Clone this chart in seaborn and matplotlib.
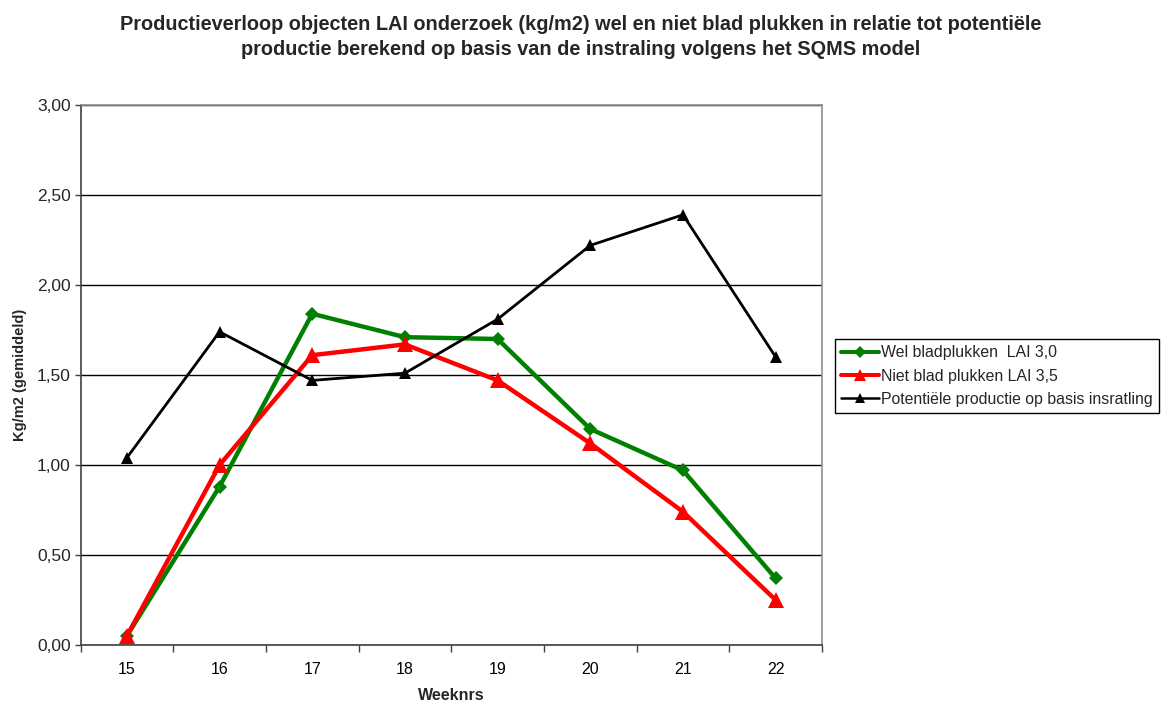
import matplotlib
matplotlib.use("Agg")
import matplotlib.pyplot as plt
import seaborn as sns
import pandas as pd
import numpy as np

weeks = ["15", "16", "17", "18", "19", "20", "21", "22"]
wel_bladplukken = [0.05, 0.88, 1.84, 1.71, 1.70, 1.20, 0.97, 0.37]
niet_bladplukken = [0.05, 1.00, 1.61, 1.67, 1.47, 1.12, 0.74, 0.25]
potentieel = [1.04, 1.74, 1.47, 1.51, 1.81, 2.22, 2.39, 1.60]

series_names = ["Wel bladplukken  LAI 3,0", "Niet blad plukken LAI 3,5",
                "Potentiële productie op basis insratling"]

sns.set_theme(style="white")
plt.rcParams['font.family'] = ['Liberation Sans', 'DejaVu Sans']

rows = []
for name, vals in zip(series_names, [wel_bladplukken, niet_bladplukken, potentieel]):
    for i, v in enumerate(vals):
        rows.append({"pos": i, "week": weeks[i], "value": v, "series": name})
df = pd.DataFrame(rows)

fig = plt.figure(figsize=(11.62, 7.04), dpi=100)
ax = fig.add_axes([0.0693, 0.0838, 0.6381, 0.7671])

palette = {series_names[0]: "#008000", series_names[1]: "#FF0000", series_names[2]: "#000000"}
markers = {series_names[0]: "D", series_names[1]: "^", series_names[2]: "^"}

sns.lineplot(data=df, x="pos", y="value", hue="series", style="series",
             palette=palette, markers=markers, dashes=False, ax=ax,
             legend=False, estimator=None, sort=False)

lw = {0: 3.2, 1: 3.2, 2: 2.0}
ms = {0: 7.5, 1: 11, 2: 9}
for i, line in enumerate(ax.lines[:3]):
    line.set_linewidth(lw[i])
    line.set_markersize(ms[i])
    line.set_markeredgewidth(0)
    line.set_zorder(4 + i)

ax.set_xlim(-0.5, 7.5)
ax.set_ylim(0, 3.0)
ax.set_xticks(range(len(weeks)))
ax.set_xticklabels(weeks)
ax.set_xticks(np.arange(-0.5, 8, 1.0), minor=True)
ax.tick_params(axis='x', which='major', length=0, pad=12, labelsize=11.5, colors='black')
ax.tick_params(axis='x', which='minor', length=5, width=1, color='#404040', direction='out', bottom=True)

yt = np.arange(0, 3.01, 0.5)
ax.set_yticks(yt)
ax.set_yticklabels([f"{v:.2f}".replace(".", ",") for v in yt])
ax.tick_params(axis='y', which='major', length=4, width=1, color='#404040', direction='out', left=True, labelsize=12.5, pad=3)

ax.yaxis.grid(True, color='black', linewidth=1.0)
ax.set_axisbelow(True)

for s in ['left', 'bottom']:
    ax.spines[s].set_color('#404040')
    ax.spines[s].set_linewidth(1.2)
for s in ['top', 'right']:
    ax.spines[s].set_color('#909090')
    ax.spines[s].set_linewidth(1.2)
    ax.spines[s].set_visible(True)

ax.set_xlabel("Weeknrs", fontsize=11.5, fontweight='bold', labelpad=8)
ax.set_ylabel("Kg/m2 (gemiddeld)", fontsize=10.5, fontweight='bold', labelpad=7)

fig.suptitle("Productieverloop objecten LAI onderzoek (kg/m2) wel en niet blad plukken in relatie tot potentiële\n"
             "productie berekend op basis van de instraling volgens het SQMS model",
             fontsize=14.3, fontweight='bold', y=0.979, linespacing=1.4)

handles = []
for i, name in enumerate(series_names):
    h, = ax.plot([], [], color=palette[name], marker=markers[name], linewidth=lw[i] * 0.9,
                 markersize=ms[i] * 0.75, markeredgewidth=0, label=name)
    handles.append(h)
leg = fig.legend(handles=handles, loc='upper left', bbox_to_anchor=(0.7186, 0.5185),
                 fontsize=11.4, frameon=True, fancybox=False, framealpha=1,
                 edgecolor='black', borderpad=0.4, handlelength=2.4, handletextpad=0.1,
                 labelspacing=0.52, borderaxespad=0)
leg.get_frame().set_linewidth(1.0)

fig.savefig("out.png", dpi=100)
